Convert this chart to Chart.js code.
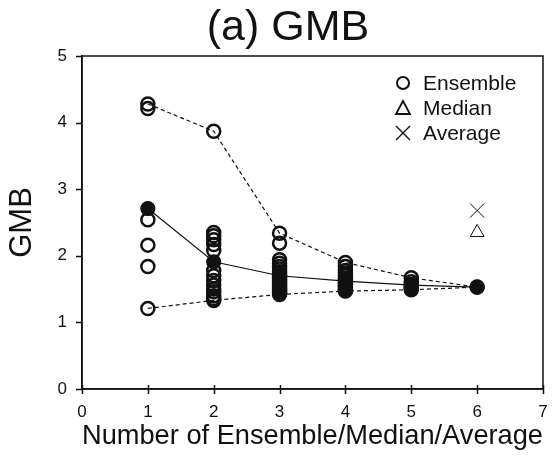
<!DOCTYPE html>
<html>
<head>
<meta charset="utf-8">
<title>(a) GMB</title>
<script src="https://cdn.jsdelivr.net/npm/chart.js@4/dist/chart.umd.min.js"></script>
<style>
  html, body { margin: 0; padding: 0; background: #fff; }
  #wrap { width: 554px; height: 459px; }
</style>
</head>
<body>
<div id="wrap"><canvas id="gmbChart" width="554" height="459"></canvas></div>
<script>
// GMB values for each ensemble size
const ensembleSizes = [1, 2, 3, 4, 5, 6];
const ens1 = [4.28, 4.21, 2.54, 2.16, 1.84, 1.21];
const ens2 = [3.87, 2.35, 2.30, 2.24, 2.17, 2.08, 1.78, 1.70, 1.63, 1.56, 1.50, 1.46, 1.40, 1.36, 1.33];
const ens3 = [2.34, 2.19, 1.94, 1.89, 1.84, 1.80, 1.76, 1.72, 1.69, 1.66, 1.63, 1.60, 1.57, 1.55, 1.52, 1.50, 1.48, 1.46, 1.44, 1.42];
const ens4 = [1.90, 1.84, 1.78, 1.74, 1.70, 1.66, 1.63, 1.60, 1.58, 1.56, 1.54, 1.52, 1.50, 1.48, 1.47];
const ens5 = [1.67, 1.61, 1.57, 1.54, 1.51, 1.49];
const ens6 = [1.53];
const meanLine = [2.71, 1.91, 1.70, 1.62, 1.56, 1.53];
const maxLine = [4.28, 3.87, 2.34, 1.90, 1.67, 1.53];
const minLine = [1.21, 1.33, 1.42, 1.47, 1.49, 1.53];
const medianPoint = [6, 2.35];
const averagePoint = [6, 2.68];
const xTicks = [0, 1, 2, 3, 4, 5, 6, 7];
const yTicks = [0, 1, 2, 3, 4, 5];

const FONT = "'Liberation Sans', Arial, Helvetica, sans-serif";
const INK = '#111';

const ensembleGroups = [ens1, ens2, ens3, ens4, ens5, ens6];
const ensemblePoints = [];
ensembleGroups.forEach((vals, i) => {
    vals.forEach(v => ensemblePoints.push({ x: ensembleSizes[i], y: v }));
});
function toPoints(arr) {
    return arr.map((v, i) => ({ x: ensembleSizes[i], y: v }));
}

// title, box + tick marks around the plot and the legend inside the plot
const framePlugin = {
    id: 'frame',
    afterDraw(chart) {
        const ctx = chart.ctx;
        const a = chart.chartArea;
        const xs = chart.scales.x, ys = chart.scales.y;
        ctx.save();
        ctx.strokeStyle = INK;
        ctx.lineWidth = 1.5;
        ctx.strokeRect(a.left, a.top, a.right - a.left, a.bottom - a.top);

        // tick marks: x ticks cross the axis, y ticks point out
        ctx.beginPath();
        xTicks.forEach(v => {
            const px = Math.round(xs.getPixelForValue(v)) + 0.5;
            ctx.moveTo(px, a.bottom - 4);
            ctx.lineTo(px, a.bottom + 5);
        });
        yTicks.forEach(v => {
            const py = Math.round(ys.getPixelForValue(v)) + 0.5;
            ctx.moveTo(a.left - 6, py);
            ctx.lineTo(a.left, py);
        });
        ctx.stroke();

        ctx.fillStyle = INK;
        ctx.font = '43px ' + FONT;
        ctx.textAlign = 'center';
        ctx.textBaseline = 'middle';
        ctx.fillText('(a) GMB', 288, 28);

        const items = ['Ensemble', 'Median', 'Average'];
        const sx = a.right - 140;
        const tx = a.right - 120;
        items.forEach((label, i) => {
            const y = a.top + 27 + i * 25;
            ctx.strokeStyle = INK;
            ctx.beginPath();
            if (i === 0) {
                ctx.lineWidth = 2;
                ctx.arc(sx, y, 6, 0, Math.PI * 2);
            } else if (i === 1) {
                ctx.lineWidth = 1.8;
                ctx.moveTo(sx, y - 7);
                ctx.lineTo(sx + 7, y + 6);
                ctx.lineTo(sx - 7, y + 6);
                ctx.closePath();
            } else {
                ctx.lineWidth = 1.4;
                ctx.moveTo(sx - 7, y - 7); ctx.lineTo(sx + 7, y + 7);
                ctx.moveTo(sx + 7, y - 7); ctx.lineTo(sx - 7, y + 7);
            }
            ctx.stroke();
            ctx.fillStyle = INK;
            ctx.font = '21px ' + FONT;
            ctx.textBaseline = 'middle';
            ctx.textAlign = 'left';
            ctx.fillText(label, tx, y + 1);
        });
        ctx.restore();
    }
};

const ctx = document.getElementById('gmbChart').getContext('2d');
new Chart(ctx, {
    type: 'scatter',
    data: {
        datasets: [
            {
                label: 'Ensemble',
                data: ensemblePoints,
                pointStyle: 'circle',
                pointRadius: 6.5,
                borderWidth: 2.5,
                borderColor: INK,
                backgroundColor: 'rgba(0,0,0,0)',
                showLine: false
            },
            {
                label: 'Mean',
                data: toPoints(meanLine),
                showLine: true,
                borderColor: INK,
                borderWidth: 1.2,
                pointRadius: 7,
                pointBackgroundColor: INK,
                pointBorderColor: INK,
                backgroundColor: INK
            },
            {
                label: 'Max',
                data: toPoints(maxLine),
                showLine: true,
                borderColor: INK,
                borderWidth: 1.2,
                borderDash: [4, 3],
                pointRadius: 0
            },
            {
                label: 'Min',
                data: toPoints(minLine),
                showLine: true,
                borderColor: INK,
                borderWidth: 1.2,
                borderDash: [4, 3],
                pointRadius: 0
            },
            {
                label: 'Median',
                data: [{ x: medianPoint[0], y: medianPoint[1] }],
                pointStyle: 'triangle',
                pointRadius: 8,
                borderWidth: 1,
                borderColor: INK,
                backgroundColor: 'rgba(0,0,0,0)'
            },
            {
                label: 'Average',
                data: [{ x: averagePoint[0], y: averagePoint[1] }],
                pointStyle: 'crossRot',
                pointRadius: 10,
                borderWidth: 1,
                borderColor: INK
            }
        ]
    },
    options: {
        responsive: false,
        animation: false,
        layout: { padding: { left: 0, right: 7, top: 56, bottom: 0 } },
        plugins: {
            legend: { display: false },
            tooltip: { enabled: false },
            title: { display: false }
        },
        scales: {
            x: {
                type: 'linear',
                min: 0,
                max: 7,
                afterBuildTicks: s => { s.ticks = xTicks.map(v => ({ value: v })); },
                afterFit: s => { s.height = 70; },
                ticks: {
                    color: INK,
                    font: { family: FONT, size: 17 },
                    padding: 0
                },
                grid: {
                    drawOnChartArea: false,
                    drawTicks: true,
                    tickLength: 13,
                    tickColor: 'rgba(0,0,0,0)'
                },
                border: { display: true, color: INK, width: 1.5 },
                title: {
                    display: true,
                    text: 'Number of Ensemble/Median/Average',
                    color: INK,
                    font: { family: FONT, size: 27.5 },
                    padding: { top: 0, bottom: 6 }
                }
            },
            y: {
                type: 'linear',
                min: 0,
                max: 5,
                afterBuildTicks: s => { s.ticks = yTicks.map(v => ({ value: v })); },
                afterFit: s => { s.width = 82; },
                ticks: {
                    color: INK,
                    font: { family: FONT, size: 17 },
                    padding: 0
                },
                grid: {
                    drawOnChartArea: false,
                    drawTicks: true,
                    tickLength: 15,
                    tickColor: 'rgba(0,0,0,0)'
                },
                border: { display: true, color: INK, width: 1.5 },
                title: {
                    display: true,
                    text: 'GMB',
                    color: INK,
                    font: { family: FONT, size: 31 },
                    padding: { top: 4, bottom: 0 }
                }
            }
        }
    },
    plugins: [framePlugin]
});
</script>
</body>
</html>
